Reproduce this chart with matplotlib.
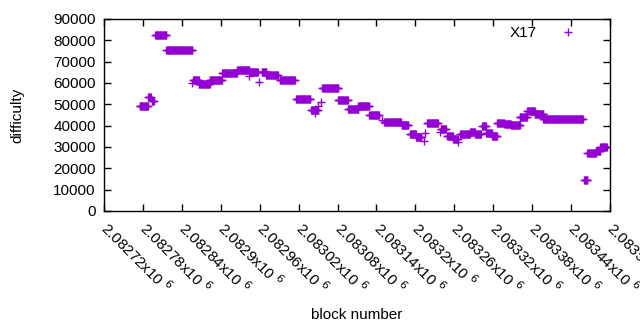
import matplotlib
matplotlib.use('Agg')
import matplotlib.pyplot as plt
import numpy as np

plt.rcParams['font.family'] = ['Liberation Sans', 'DejaVu Sans']

# difficulty runs: first block, last block, difficulty
run_start = [2082775, 2082788, 2082794, 2082799, 2082816, 2082856, 2082857, 2082866,
             2082883, 2082902, 2082925, 2082944, 2082945, 2082959, 2082963, 2082970,
             2082991, 2083016, 2083039, 2083045, 2083050, 2083054, 2083056, 2083081,
             2083096, 2083112, 2083129, 2083149, 2083152, 2083179, 2083192, 2083201,
             2083213, 2083215, 2083218, 2083238, 2083239, 2083249, 2083258, 2083266,
             2083269, 2083284, 2083292, 2083303, 2083309, 2083318, 2083326, 2083337,
             2083347, 2083361, 2083372, 2083384, 2083397, 2083460, 2083465, 2083478,
             2083485]
run_end = [2082788, 2082792, 2082797, 2082816, 2082856, 2082856, 2082866, 2082883,
           2082902, 2082925, 2082944, 2082944, 2082957, 2082959, 2082970, 2082988,
           2083014, 2083038, 2083050, 2083045, 2083050, 2083054, 2083081, 2083096,
           2083112, 2083129, 2083144, 2083149, 2083178, 2083189, 2083201, 2083209,
           2083213, 2083215, 2083235, 2083238, 2083247, 2083258, 2083265, 2083266,
           2083284, 2083292, 2083301, 2083309, 2083318, 2083326, 2083337, 2083347,
           2083361, 2083372, 2083384, 2083397, 2083458, 2083465, 2083478, 2083485,
           2083495]
run_diff = [49200, 53400, 51500, 82500, 75300, 60000, 61400, 59500,
            61400, 64700, 66000, 63200, 65100, 60500, 65100, 63700,
            61400, 52500, 47300, 45900, 49200, 51100, 57700, 52000,
            47800, 49200, 45000, 42700, 41700, 40300, 36000, 34700,
            32800, 36500, 41200, 37000, 38400, 35200, 33800, 32300,
            36000, 37000, 36000, 39800, 36500, 35200, 41200, 40800,
            40300, 44100, 46900, 45500, 43100, 14500, 27200, 28100,
            30000]

x_ticks = np.arange(2082720, 2083501, 60)
x_labels = ['%gx10 $^{6}$' % (t / 1e6) for t in x_ticks]
y_ticks = np.arange(0, 90001, 10000)

blocks = []
diffs = []
for s, e, d in zip(run_start, run_end, run_diff):
    for b in range(s, e + 1):
        blocks.append(b)
        diffs.append(d)

fig = plt.figure(figsize=(6.4, 3.3), dpi=100)
ax = fig.add_axes([104/640, 1 - 211/330, 506/640, 192/330])

ax.plot(blocks, diffs, linestyle='none', marker='+', markersize=6,
        markeredgewidth=1, color='#9400d3', label='X17')

ax.set_xlim(2082720, 2083500)
ax.set_ylim(0, 90000)
ax.set_xticks(x_ticks)
ax.set_xticklabels(x_labels, rotation=-45, ha='left', va='center',
                   rotation_mode='anchor', fontsize=11)
ax.set_yticks(y_ticks)
ax.set_yticklabels([str(t) for t in y_ticks], fontsize=11)
ax.tick_params(direction='in', length=5, top=True, right=True, width=1)
ax.tick_params(axis='x', pad=10)
ax.tick_params(axis='y', pad=6)
for sp in ax.spines.values():
    sp.set_linewidth(1)

ax.set_xlabel('block number', fontsize=11)
ax.xaxis.set_label_coords(0.5, -0.505)
ax.set_ylabel('difficulty', fontsize=11)
ax.yaxis.set_label_coords(-0.158, 0.5)

ax.legend(loc='upper right', frameon=False, markerfirst=False, fontsize=11,
          handlelength=2.5, borderaxespad=0.2, bbox_to_anchor=(0.972, 1.01))

fig.savefig('out.png', dpi=100)
